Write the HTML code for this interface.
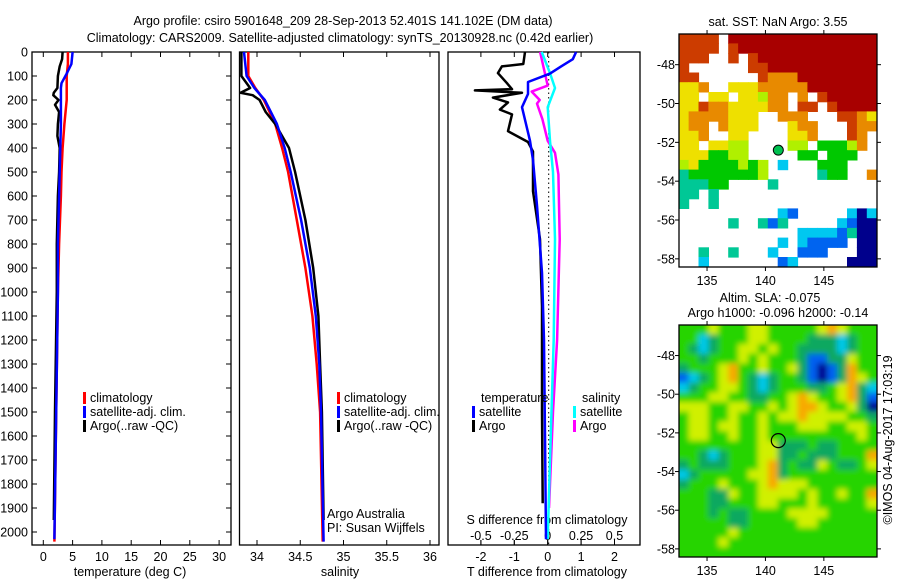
<!DOCTYPE html>
<html><head><meta charset="utf-8"><style>
html,body{margin:0;padding:0;background:#fff;}
svg{display:block;font-family:"Liberation Sans",sans-serif;}
text{font-size:12.5px;fill:#000;}
</style></head><body>
<svg id="s" width="900" height="580" viewBox="0 0 900 580">
<text x="343" y="25" text-anchor="middle" font-size="13">Argo profile: csiro 5901648_209 28-Sep-2013 52.401S 141.102E (DM data)</text>
<text x="340" y="42" text-anchor="middle" font-size="13">Climatology: CARS2009. Satellite-adjusted climatology: synTS_20130928.nc (0.42d earlier)</text>
<text x="778" y="26" text-anchor="middle">sat. SST: NaN Argo: 3.55</text>
<text x="770" y="302" text-anchor="middle">Altim. SLA: -0.075</text>
<text x="778" y="317" text-anchor="middle">Argo h1000: -0.096 h2000: -0.14</text>
<text transform="translate(892,440) rotate(-90)" text-anchor="middle">©IMOS 04-Aug-2017 17:03:19</text>
<text x="130" y="576" text-anchor="middle">temperature (deg C)</text>
<text x="340" y="576" text-anchor="middle">salinity</text>
<text x="547" y="576" text-anchor="middle">T difference from climatology</text>
<text x="547" y="524" text-anchor="middle">S difference from climatology</text>
<text x="327" y="518">Argo Australia</text>
<text x="327" y="532">PI: Susan Wijffels</text>
</svg>
<script>
// ---- data ----
const depthTicks=[0,100,200,300,400,500,600,700,800,900,1000,1100,1200,1300,1400,1500,1600,1700,1800,1900,2000];
const tTicks=[0,5,10,15,20,25,30];
const sTicks=[34,34.5,35,35.5,36];
const tdTicks=[-2,-1,0,1,2];
const sdTicks=[-0.5,-0.25,0,0.25,0.5];
const sdTickLabels=["-0.5","-0.25","0","0.25","0.5"];
const lonTicks=[135,140,145];
const latTicks=[-48,-50,-52,-54,-56,-58];

const tClimD=[0,50,100,200,300,400,500,600,800,1000,1500,2040];
const tClimV=[4.2,4.2,4.0,4.0,3.6,3.3,3.1,3.0,2.7,2.5,2.2,1.9];
const tSatD=[0,50,90,130,150,300,500,800,1000,1500,2030];
const tSatV=[5.0,4.8,4.0,3.1,3.0,3.0,2.8,2.5,2.5,2.2,1.9];
const tArgoD=[0,30,60,100,150,170,180,200,220,250,300,350,400,500,600,800,1000,1500,1950];
const tArgoV=[3.3,3.2,2.8,2.5,2.4,1.8,1.7,2.6,2.0,2.7,2.5,2.4,2.8,2.7,2.5,2.3,2.3,2.0,1.8];

const sClimD=[0,100,150,200,300,400,500,700,900,1100,1300,1500,2040];
const sClimV=[33.9,33.9,33.98,34.08,34.21,34.29,34.36,34.46,34.56,34.64,34.69,34.73,34.76];
const sSatD=[0,100,150,200,300,400,500,700,900,1100,1300,1500,2040];
const sSatV=[33.85,33.88,33.97,34.09,34.23,34.32,34.39,34.51,34.61,34.68,34.72,34.74,34.77];
const sArgoD=[0,100,150,170,180,200,250,300,400,500,700,900,1100,1300,1500,1950];
const sArgoV=[33.82,33.82,33.92,33.81,33.95,34.03,34.1,34.21,34.37,34.44,34.56,34.65,34.71,34.73,34.75,34.77];

const tdSatD=[0,30,60,90,125,175,230,370,450,640,920,1200,1600,2030];
const tdSatV=[0.85,0.75,0.4,0.07,-0.59,-0.59,-0.77,-0.53,-0.44,-0.32,-0.17,-0.11,-0.08,-0.05];
const tdArgoD=[0,50,60,88,130,155,160,170,190,210,240,260,330,375,415,580,780,1060,1500,1880];
const tdArgoV=[-0.68,-0.73,-1.37,-1.49,-1.22,-1.07,-2.18,-0.77,-1.64,-1.19,-1.43,-1.07,-1.19,-0.59,-0.44,-0.44,-0.23,-0.17,-0.17,-0.15];
const sdSatD=[0,88,150,230,370,500,780,1200,1700,2030];
const sdSatV=[-0.045,0.017,0.055,0,0.017,0.04,0.055,0.045,0.017,0.0];
const sdArgoD=[0,140,165,200,215,280,370,420,510,780,1200,1500,1800,1900];
const sdArgoV=[-0.057,0,-0.12,-0.06,-0.08,-0.04,0,0.055,0.08,0.09,0.07,0.04,0.017,0.01];

const sstGrid=[
"rrrr.RRRRRRRRRRRRRRR","rrrr.rRRRRRRRRRRRRRR","rrr..r.rRRRRRRRRRRRR","r......rrRRRRRRRRRRR",
"rr......roooRRRRRRRR","yyo..yyyoooooRRRRRRR","yy.yy.yygoo.o.rRRRRR","yyrooyyyyoo.rr.rRRRR",
"yooooyyy..ooo...rroy","yoo.oyyy...yoo...roo","yyo..yy....yyo...ro.","yy.yygg....gg.GGGgo.",
"yyyGGgg.....GG.GGG..","gyGGGGgGg.c...GGG...","tGGGGGGGg.....tGG..o","tttGG....t..........",
"tt.t................","t..t................","..........cb.....cnc",".....t..tbt.....cbnn",
"............ccccbtnn","..........c.cbbbb.nn","..t..t...c..bbb...nn","..c.......bc.....nnn"];
const slaGrid=[
"GGGyGGGyyGGGGGyoyGGG","GGcDGGGyyGGGGDDDcDGG","GDcDGGyyGyGGDDDDcDGG","GGDGGGyGyGGGDbbDDyGG",
"DGGGyoGGyGGyDbnbDoGG","bcDGyoGDcDGGDbnbDoyG","cDGGyyGDcDGGGDDGyoDc","GGGyyGGDDGGyoyGGyoDb",
"yyyGGyyGGyGyooyGGyDn","GyyGGyGGyGyyoyyyyGGD","GyyGyyGGyGGGyyyGGyyG","GyyGGyGGyGGGGGGGGGyG",
"GGGGGGGGyyDDDGDDGGGG","GGDcDGGGyyDDGDDDGGGo","DGDDDGGGyoDGDDyGDDGy","cDGGGGGyyoDGGGGGGGGG",
"DGGGyGGGyoyyyGGGGGGG","GGGDDyGGyyyyGyGGyGGo","GGGDDGGGyyGGGyGGGGGy","GGGDGDDGGGGyyyyGGGGG",
"GGGGGDDGGGGGyyGGGGGG","GGGGGyGGGGGGGGGGGGGG","GGGGyGGGGGGGGGGGGGGG","GGGGGGGGGGGGGGGGGGGG"];
const argoLon=[141.102];
const argoLat=[-52.401];

// ---- helpers ----
const NS="http://www.w3.org/2000/svg";
const svg=document.getElementById('s');
function mk(tag,attrs,parent){const e=document.createElementNS(NS,tag);for(const k in attrs)e.setAttribute(k,attrs[k]);(parent||svg).appendChild(e);return e;}
const Y0=52,KY=0.24,BOT=545;
const yD=d=>Y0+d*KY;
const xT=v=>43.3+v*5.86;
const xS=v=>257+(v-34)*86.5;
const xTd=v=>547.7+v*33.4;
const xSd=v=>547.7+v*133.6;

const panels=[["temperature-panel",32,231],["salinity-panel",239.5,439],["difference-panel",448,640]];
panels.forEach(p=>{
  const r=mk('rect',{x:p[1],y:Y0,width:p[2]-p[1],height:BOT-Y0,fill:'none',stroke:'#000','stroke-width':1.3});
  
  
});
depthTicks.forEach(d=>{
  const y=yD(d);
  mk('line',{x1:32,x2:37,y1:y,y2:y,stroke:'#000'});
  mk('line',{x1:226,x2:231,y1:y,y2:y,stroke:'#000'});
  const t=mk('text',{x:28,y:y+4.5,'text-anchor':'end'});t.textContent=d;
  
  
});
function xticks(arr,fx,labels,ly){
  arr.forEach((v,i)=>{const x=fx(v);
    mk('line',{x1:x,x2:x,y1:BOT,y2:BOT-5,stroke:'#000'});
    mk('line',{x1:x,x2:x,y1:Y0,y2:Y0+5,stroke:'#000'});
    const t=mk('text',{x:x,y:ly,'text-anchor':'middle'});t.textContent=labels?labels[i]:v;
    
    
  });
}
xticks(tTicks,xT,null,561);
xticks(sTicks,xS,null,561);
xticks(tdTicks,xTd,null,561);
sdTicks.forEach((v,i)=>{const x=xSd(v);
  mk('line',{x1:x,x2:x,y1:BOT,y2:BOT-5,stroke:'#000'});
  const t=mk('text',{x:x,y:540,'text-anchor':'middle'});t.textContent=sdTickLabels[i];
  
  
});
const zl=mk('line',{x1:xTd(0)+1,x2:xTd(0)+1,y1:Y0,y2:BOT,stroke:'#000','stroke-dasharray':'1.5,3'});



function profile(D,V,fx,col,name){
  const pts=D.map((d,i)=>fx(V[i]).toFixed(1)+','+yD(d).toFixed(1)).join(' ');
  const l=mk('polyline',{points:pts,fill:'none',stroke:col,'stroke-width':2.5,'stroke-linejoin':'round'});
  
  
}
profile(tClimD,tClimV,xT,'#ff0000','temp-climatology-line');
profile(tArgoD,tArgoV,xT,'#000','temp-argo-line');
profile(tSatD,tSatV,xT,'#0000ff','temp-satellite-line');
profile(sClimD,sClimV,xS,'#ff0000','sal-climatology-line');
profile(sArgoD,sArgoV,xS,'#000','sal-argo-line');
profile(sSatD,sSatV,xS,'#0000ff','sal-satellite-line');
profile(sdArgoD,sdArgoV,xSd,'#ff00ff','sdiff-argo-line');
profile(sdSatD,sdSatV,xSd,'#00ffff','sdiff-satellite-line');
profile(tdArgoD,tdArgoV,xTd,'#000','tdiff-argo-line');
profile(tdSatD,tdSatV,xTd,'#0000ff','tdiff-satellite-line');

function legend(x,y,col,label,name){
  const b=mk('rect',{x:x,y:y-10,width:3,height:12,fill:col});
  
  
  const t=mk('text',{x:x+7,y:y});t.textContent=label;
  
  
}
legend(83,402,'#ff0000','climatology','legend-climatology');
legend(83,416,'#0000ff','satellite-adj. clim.','legend-satellite');
legend(83,430,'#000','Argo(..raw -QC)','legend-argo');
legend(337,402,'#ff0000','climatology','legend-sal-climatology');
legend(337,416,'#0000ff','satellite-adj. clim.','legend-sal-satellite');
legend(337,430,'#000','Argo(..raw -QC)','legend-sal-argo');
{const t=mk('text',{x:481,y:402});t.textContent='temperature';
 
 
 const t2=mk('text',{x:582,y:402});t2.textContent='salinity';
 
 }
legend(472,416,'#0000ff','satellite','legend-tdiff-satellite');
legend(472,430,'#000','Argo','legend-tdiff-argo');
legend(573,416,'#00ffff','satellite','legend-sdiff-satellite');
legend(573,430,'#ff00ff','Argo','legend-sdiff-argo');

// ---- maps ----
const sstCol={R:'#a80000',r:'#cc3c00',o:'#e88a00',y:'#eee000',g:'#b0f000',G:'#00c800',t:'#00c896',c:'#00c8f0',b:'#0064f0',n:'#00008c'};
const slaCol={G:'#28d400',D:'#10a860',y:'#d0f000',o:'#f8a800',c:'#00c8e8',b:'#0060f0',n:'#000090'};
function map(top,bot,grid,cols,name,blur,id,bg){
  const L=679,R=877;
  const xL=v=>L+(v-132.6)*(R-L)/(149.55-132.6);
  const yL=v=>top+(v+46.42)*(bot-top)/(-58.42+46.42);
  const defs=mk('defs',{});
  const cp=mk('clipPath',{id:'c'+id},defs);mk('rect',{x:L,y:top,width:R-L,height:bot-top},cp);
  if(blur){const f=mk('filter',{id:'f'+id,x:'-10%',y:'-10%',width:'120%',height:'120%'},defs);mk('feGaussianBlur',{stdDeviation:blur},f);}
  const g=mk('g',{'clip-path':'url(#c'+id+')'});
  
  
  if(bg) mk('rect',{x:L,y:top,width:R-L,height:bot-top,fill:bg},g);
  const g2=mk('g',blur?{filter:'url(#f'+id+')'}:{},g);
  const nr=grid.length,nc=grid[0].length,cw=(R-L)/nc,ch=(bot-top)/nr;
  const pad=blur?1:0;
  grid.forEach((row,i)=>{for(let j=0;j<nc;j++){const c=row[j];if(c==='.')continue;
    let x=L+j*cw-0.3,y=top+i*ch-0.3,w=cw+0.6,h=ch+0.6;
    if(pad){if(j===0){x-=10;w+=10;} if(j===nc-1)w+=10; if(i===0){y-=10;h+=10;} if(i===nr-1)h+=10;}
    const cell=mk('rect',{x:x.toFixed(1),y:y.toFixed(1),width:w.toFixed(1),height:h.toFixed(1),fill:cols[c]},g2);
    
    }});
  const fr=mk('rect',{x:L,y:top,width:R-L,height:bot-top,fill:'none',stroke:'#000','stroke-width':1.3});
  
  
  lonTicks.forEach(v=>{const x=xL(v);
    mk('line',{x1:x,x2:x,y1:top,y2:top-4,stroke:'#000'});mk('line',{x1:x,x2:x,y1:bot,y2:bot+4,stroke:'#000'});
    const t=mk('text',{x:x,y:bot+18,'text-anchor':'middle'});t.textContent=v;
    
    });
  latTicks.forEach(v=>{const y=yL(v);
    mk('line',{x1:L,x2:L-4,y1:y,y2:y,stroke:'#000'});mk('line',{x1:R,x2:R+4,y1:y,y2:y,stroke:'#000'});
    const t=mk('text',{x:L-4,y:y+4.5,'text-anchor':'end'});t.textContent=v;
    
    });
  return [xL,yL];
}
const [x1,y1]=map(34,267,sstGrid,sstCol,'sst-map',0,1,null);
const m1=mk('circle',{cx:x1(argoLon[0]),cy:y1(argoLat[0]),r:5,fill:'#00c050',stroke:'#000','stroke-width':1});


const [x2,y2]=map(325,557,slaGrid,slaCol,'sla-map',3,2,'#28d400');
const m2=mk('circle',{cx:x2(argoLon[0]),cy:y2(argoLat[0]),r:7,fill:'none',stroke:'#000','stroke-width':1.2});


</script>
</body></html>
